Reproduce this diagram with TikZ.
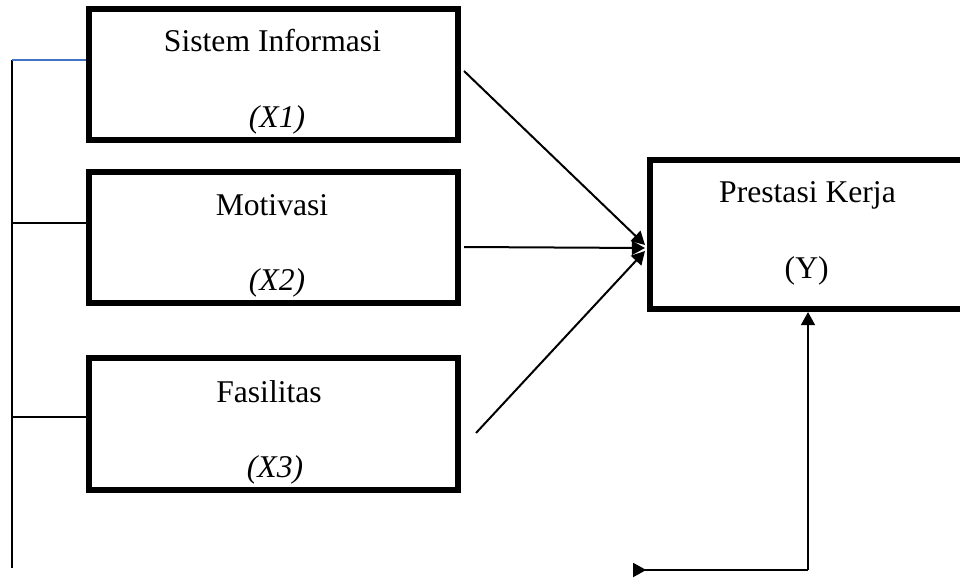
\documentclass[tikz,border=0pt]{standalone}
\usepackage{fontspec}
\setmainfont{Liberation Serif}
\usetikzlibrary{arrows.meta}
\definecolor{lineblue}{RGB}{68,114,196}
\begin{document}
\begin{tikzpicture}[x=0.025cm,y=-0.025cm,
  box/.style={draw, line width=0.15cm, minimum width=9.225cm, minimum height=3.275cm, inner sep=0pt},
  lbl/.style={anchor=base, inner sep=0pt, font=\fontsize{22.5}{27}\selectfont},
  conn/.style={line width=0.05cm},
  arr/.style={conn, -{Triangle[length=0.33cm, width=0.35cm]}}]
\useasboundingbox (0,0) rectangle (960,578);
\node[box] (x1) at (273.5,74.5) {};
\node[box] (x2) at (273.5,237.5) {};
\node[box, minimum height=3.3cm] (x3) at (273.5,424) {};
\node[box, minimum width=8.05cm, minimum height=3.725cm] (y) at (811,234.5) {};
\node[lbl] (x1name) at (272.5,52) {Sistem Informasi};
\node[lbl] (x1code) at (277,127) {\itshape (X1)};
\node[lbl] (x2name) at (272,215) {Motivasi};
\node[lbl] (x2code) at (277,290) {\itshape (X2)};
\node[lbl] (x3name) at (269,402) {Fasilitas};
\node[lbl] (x3code) at (275,477) {\itshape (X3)};
\node[lbl] (yname) at (807.5,202) {Prestasi Kerja};
\node[lbl] (ycode) at (806.7,278) {(Y)};
\coordinate (x1out) at (464,71);
\coordinate (x2out) at (464,247);
\coordinate (x3out) at (476,433);
\coordinate (yin1) at (645,245);
\coordinate (yin2) at (645,248);
\coordinate (yin3) at (645,251);
\coordinate (top) at (12,60);
\coordinate (bot) at (12,568);
\coordinate (mid2) at (12,223);
\coordinate (mid3) at (12,417);
\coordinate (corner) at (808,570);
\coordinate (tail) at (633,570);
% bracket on the left
\draw[conn] (top) -- (bot);
\draw[conn, lineblue] (top) -- (x1.west |- top);
\draw[conn] (mid2) -- (x2.west |- mid2);
\draw[conn] (mid3) -- (x3.west |- mid3);
% arrows into Y
\draw[arr] (x1out) -- (yin1);
\draw[arr] (x2out) -- (yin2);
\draw[arr] (x3out) -- (yin3);
\draw[arr] (corner) -- (y.south -| corner);
\draw[conn, -{Triangle[reversed, length=0.33cm, width=0.35cm]}] (corner) -- (tail);
\end{tikzpicture}
\end{document}
